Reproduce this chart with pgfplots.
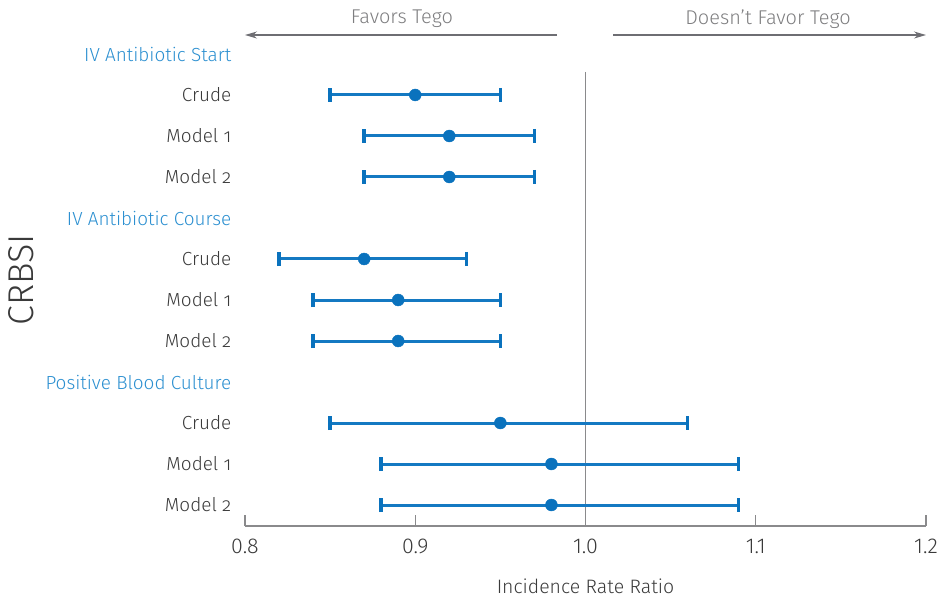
\documentclass[border=0pt]{standalone}
\usepackage{fontspec}
\setmainfont{Fira Sans Light}
\newfontfamily\osf{Fira Sans Light}[Numbers=OldStyle]
\usepackage{pgfplots}
\pgfplotsset{compat=1.18}
\usetikzlibrary{arrows.meta}
\definecolor{ptblue}{HTML}{0A72BD}
\definecolor{barblue}{HTML}{1479C2}
\definecolor{hdrblue}{HTML}{2B8FD0}
\definecolor{txt}{HTML}{3A3A3A}
\definecolor{hdrgray}{HTML}{7E7E80}
\definecolor{axgray}{HTML}{8A8A8C}
\definecolor{arrgray}{HTML}{6E6E73}
\pgfplotstableread{
x y ep em
0.90 -1 0.05 0.05
0.92 -2 0.05 0.05
0.92 -3 0.05 0.05
0.87 -5 0.06 0.05
0.89 -6 0.06 0.05
0.89 -7 0.06 0.05
0.95 -9 0.11 0.10
0.98 -10 0.11 0.10
0.98 -11 0.11 0.10
}\irrdata
\begin{document}
\begin{tikzpicture}
\useasboundingbox (-245bp,-76bp) rectangle (697bp,526bp);
\begin{axis}[
  scale only axis,
  width=681bp, height=526bp,
  xmin=0.8, xmax=1.2,
  ymin=-11.512, ymax=1.317,
  clip=false,
  axis x line=bottom,
  axis y line=left,
  x axis line style={-, draw=axgray, line width=1.2bp},
  y axis line style={draw=none},
  xtick={0.8,0.9,1.0,1.1,1.2},
  xticklabels={0.8,0.9,1.0,1.1,1.2},
  xtick align=inside,
  major tick length=11bp,
  xtick style={draw=axgray, line width=1.2bp},
  ytick style={draw=none},
  xticklabel style={font=\fontsize{21.5}{24}\selectfont, text=txt, inner sep=0pt, anchor=north, yshift=-13bp},
  ytick={0,-1,-2,-3,-4,-5,-6,-7,-8,-9,-10,-11},
  yticklabels={{\color{hdrblue}IV Antibiotic Start},Crude,Model 1,Model 2,
               {\color{hdrblue}IV Antibiotic Course},Crude,Model 1,Model 2,
               {\color{hdrblue}Positive Blood Culture},Crude,Model 1,Model 2},
  yticklabel style={font=\osf\fontsize{19}{23}\selectfont, text=txt, inner sep=0pt, anchor=east, xshift=-8bp},
  xlabel={Incidence Rate Ratio},
  every axis x label/.style={at={(axis description cs:0.5,0)}, anchor=center, yshift=-60bp, font=\fontsize{19.5}{22}\selectfont, text=txt},
  ylabel={CRBSI},
  every axis y label/.style={at={(axis description cs:-0.3285,0.4677)}, rotate=90, anchor=center, font=\fontsize{36}{40}\selectfont, text=txt},
]
\draw[draw=axgray, line width=1.3bp] (axis cs:1.0,-0.439) -- (axis cs:1.0,-11.512);
\draw[draw=arrgray, line width=1.1bp, -{Stealth[length=12bp,width=7bp]}] (axis cs:0.9833,0.463) -- (axis cs:0.8,0.463);
\draw[draw=arrgray, line width=1.1bp, -{Stealth[length=12bp,width=7bp]}] (axis cs:1.0162,0.463) -- (axis cs:1.2,0.463);
\node[font=\fontsize{20}{23}\selectfont, text=hdrgray] at (axis cs:0.8922,0.86) {Favors Tego};
\node[font=\fontsize{20}{23}\selectfont, text=hdrgray] at (axis cs:1.1072,0.86) {Doesn’t Favor Tego};
\addplot[only marks, mark=*, mark size=6bp, color=ptblue,
  error bars/.cd, x dir=both, x explicit,
  error bar style={line width=3bp, color=barblue},
  error mark=|,
  error mark options={line width=3.5bp, mark size=7bp, color=ptblue}]
  table[x=x, y=y, x error plus=ep, x error minus=em] {\irrdata};
\end{axis}
\end{tikzpicture}
\end{document}
